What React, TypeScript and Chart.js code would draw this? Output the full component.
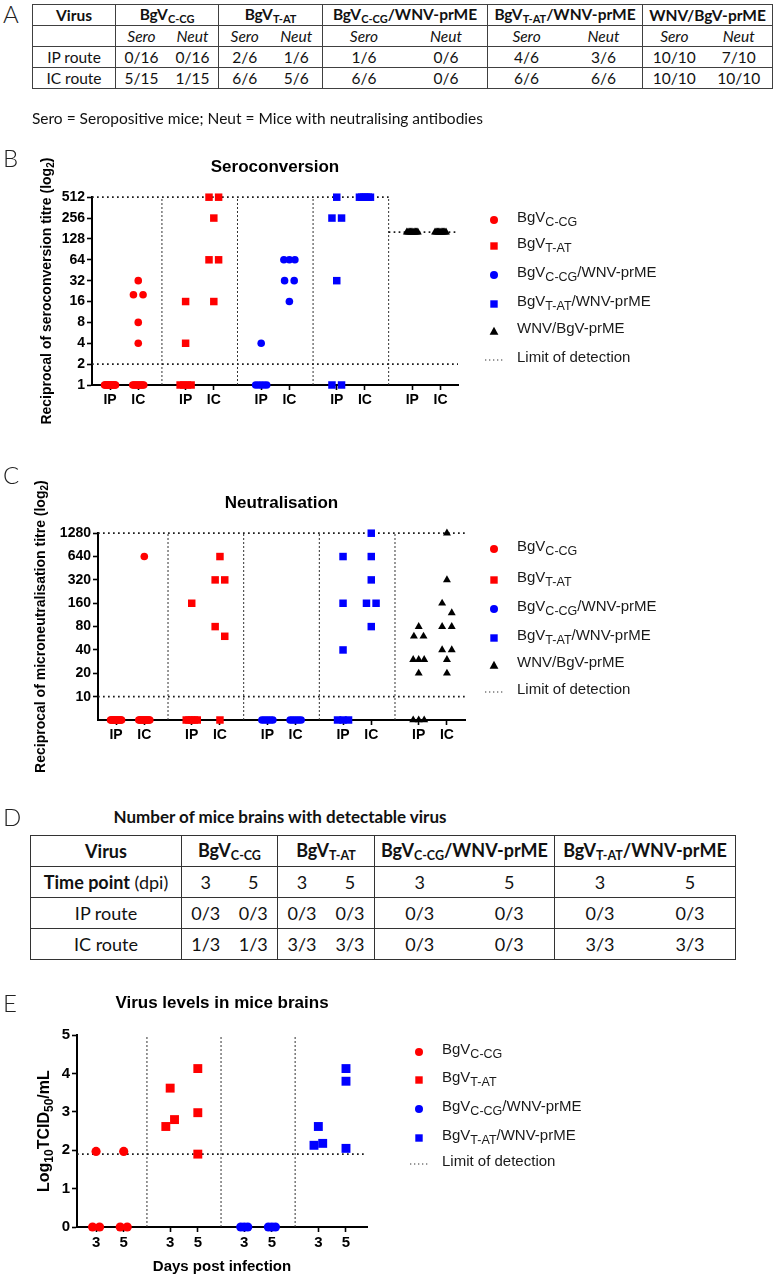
import React, { useEffect, useRef } from "react";
import { Chart, registerables } from "chart.js";

Chart.register(...registerables);

/* ---------------- data ---------------- */
const virusBase = ["BgV", "BgV", "BgV", "BgV", "WNV/BgV-prME"];
const virusSub = ["C-CG", "T-AT", "C-CG", "T-AT", ""];
const virusTail = ["", "", "/WNV-prME", "/WNV-prME", ""];
const routeLabels = ["IP", "IC"];
const routeRowLabels = ["IP route", "IC route"];
const tableSubHeaders = ["Sero", "Neut"];
const tableFootnote = "Sero = Seropositive mice; Neut = Mice with neutralising antibodies";

// Panel A: counts per virus
const seroCountsIP = ["0/16", "2/6", "1/6", "4/6", "10/10"];
const neutCountsIP = ["0/16", "1/6", "0/6", "3/6", "7/10"];
const seroCountsIC = ["5/15", "6/6", "6/6", "6/6", "10/10"];
const neutCountsIC = ["1/15", "5/6", "0/6", "6/6", "10/10"];

// Panel B: seroconversion titres per mouse (1 = undetectable)
const seroTitreIP = [
  [1, 1, 1, 1, 1, 1, 1, 1, 1, 1, 1, 1, 1, 1, 1, 1],
  [16, 4, 1, 1, 1, 1],
  [4, 1, 1, 1, 1, 1],
  [512, 256, 256, 32, 1, 1],
  [160, 160, 160, 160, 160, 160, 160, 160, 160, 160],
];
const seroTitreIC = [
  [32, 20, 20, 8, 4, 1, 1, 1, 1, 1, 1, 1, 1, 1, 1],
  [512, 512, 256, 64, 64, 16],
  [64, 64, 64, 32, 32, 16],
  [512, 512, 512, 512, 512, 512],
  [160, 160, 160, 160, 160, 160, 160, 160, 160, 160],
];
const seroTicks = [1, 2, 4, 8, 16, 32, 64, 128, 256, 512];
const seroFloor = 1;
const seroLimit = 2;
const seroTop = 512;
const seroTopWNV = 160;

// Panel C: microneutralisation titres per mouse (5 = undetectable)
const neutTitreIP = [
  [5, 5, 5, 5, 5, 5, 5, 5, 5, 5, 5, 5, 5, 5, 5, 5],
  [160, 5, 5, 5, 5, 5],
  [5, 5, 5, 5, 5, 5],
  [640, 160, 40, 5, 5, 5],
  [80, 60, 60, 30, 30, 30, 20, 5, 5, 5],
];
const neutTitreIC = [
  [640, 5, 5, 5, 5, 5, 5, 5, 5, 5, 5, 5, 5, 5, 5],
  [640, 320, 320, 80, 60, 5],
  [5, 5, 5, 5, 5, 5],
  [1280, 640, 320, 160, 160, 80],
  [1280, 320, 160, 120, 80, 80, 40, 40, 30, 20],
];
const neutTicks = [10, 20, 40, 80, 160, 320, 640, 1280];
const neutFloor = 5;
const neutLimit = 10;
const neutTop = 1280;

// Panel D
const brainTableTitle = "Number of mice brains with detectable virus";
const brainDays = ["3", "5"];
const brainDetectIP = [["0/3", "0/3"], ["0/3", "0/3"], ["0/3", "0/3"], ["0/3", "0/3"]];
const brainDetectIC = [["1/3", "1/3"], ["3/3", "3/3"], ["0/3", "0/3"], ["3/3", "3/3"]];

// Panel E: log10 TCID50/mL per mouse
const brainLevelDay3 = [[1.97, 0, 0], [3.62, 2.8, 2.62], [0, 0, 0], [2.62, 2.18, 2.13]];
const brainLevelDay5 = [[1.97, 0, 0], [4.13, 2.98, 1.9], [0, 0, 0], [4.13, 3.8, 2.05]];
const brainTicks = [0, 1, 2, 3, 4, 5];
const brainLimit = 1.9;

/* ---------------- styles ---------------- */
const FONT = "'Liberation Sans', Arial, Helvetica, sans-serif";
const TFONT = "Lato, 'Open Sans', sans-serif";
const markerColors = ["#ff0000", "#ff0000", "#0000ff", "#0000ff", "#000000"];
const markerShapes = ["circle", "rect", "circle", "rect", "triangle"];
const GROUP_STEP = 2.68;
const colX = (g: number, r: number) => g * GROUP_STEP + r;

Chart.defaults.color = "#000";
Chart.defaults.font.family = FONT;

function spreadColumn(pts: any[], o: any) {
  const groups = new Map<number, any[]>();
  pts.forEach((p) => {
    if (!groups.has(p.v)) groups.set(p.v, []);
    groups.get(p.v)!.push(p);
  });
  const vals = [...groups.keys()].sort((a, b) => b - a);
  const placed: any[] = [];
  for (const v of vals) {
    const grp = groups.get(v)!;
    const n = grp.length;
    const y = grp[0].el.y;
    if (n > 1) {
      const span = Math.min((n - 1) * o.pair, o.maxSpan);
      grp.forEach((p, i) => placed.push({ el: p.el, dx: -span / 2 + (i * span) / (n - 1), y, single: false }));
      continue;
    }
    const hits = placed.filter((q) => Math.hypot(q.dx, q.y - y) < o.collide);
    let dx = 0;
    if (hits.length === 1 && hits[0].single && hits[0].dx === 0) {
      hits[0].dx = ((o.flip ? 1 : -1) * o.pair) / 2;
      dx = -hits[0].dx;
    } else if (hits.length) {
      for (const c of [o.pair / 2, -o.pair / 2, o.pair, -o.pair]) {
        if (!placed.some((q) => Math.hypot(q.dx - c, q.y - y) < o.collide)) {
          dx = c;
          break;
        }
      }
    }
    placed.push({ el: grp[0].el, dx, y, single: true });
  }
  placed.forEach((q) => {
    q.el.x += q.dx;
  });
}

const swarmPlugin = (o: any) => ({
  id: "swarm",
  afterDatasetsUpdate(chart: any) {
    chart.data.datasets.forEach((ds: any, i: number) => {
      const meta = chart.getDatasetMeta(i);
      if (meta.type !== "scatter") return;
      const cols = new Map<number, any[]>();
      meta.data.forEach((el: any, j: number) => {
        const raw = ds.data[j];
        if (!cols.has(raw.x)) cols.set(raw.x, []);
        cols.get(raw.x)!.push({ el, v: raw.y });
      });
      cols.forEach((p) => spreadColumn(p, o));
    });
  },
});

// y-axis title with real subscripts, drawn rotated next to the y scale
const richYTitlePlugin = (segments: any[], size: number, centerX: number) => ({
  id: "richYTitle",
  afterDraw(chart: any) {
    const ctx = chart.ctx;
    const area = chart.chartArea;
    const cy = (area.top + area.bottom) / 2;
    const fontFor = (s: any) => `bold ${s.sub ? Math.round(size * 0.72) : size}px ${FONT}`;
    ctx.save();
    ctx.translate(centerX, cy);
    ctx.rotate(-Math.PI / 2);
    let total = 0;
    segments.forEach((s) => {
      ctx.font = fontFor(s);
      total += ctx.measureText(s.t).width;
    });
    let x = -total / 2;
    ctx.textBaseline = "middle";
    ctx.textAlign = "left";
    ctx.fillStyle = "#000";
    segments.forEach((s) => {
      ctx.font = fontFor(s);
      ctx.fillText(s.t, x, s.sub ? size * 0.32 : 0);
      x += ctx.measureText(s.t).width;
    });
    ctx.restore();
  },
});

function buildScatter(canvas: HTMLCanvasElement, p: any) {
  const nG = p.values[0].length;
  const tickXs: number[] = [];
  const tickLabels: string[] = [];
  for (let g = 0; g < nG; g++)
    for (let r = 0; r < 2; r++) {
      tickXs.push(colX(g, r));
      tickLabels.push(p.xLabels[r]);
    }
  const seps = Array.from({ length: nG - 1 }, (_, g) => colX(g, 1) + (GROUP_STEP - 1) / 2);
  const xMin = -p.edge[0];
  const xMax = colX(nG - 1, 1) + p.edge[1];

  const scatterSets = Array.from({ length: nG }, (_, g) => ({
    type: "scatter",
    label: virusBase[g] + virusSub[g] + virusTail[g],
    data: p.values.flatMap((routeVals: number[][], r: number) =>
      routeVals[g].map((v) => ({ x: colX(g, r), y: v }))
    ),
    pointStyle: markerShapes[g],
    pointRadius: p.marker[markerShapes[g]],
    pointBackgroundColor: markerColors[g],
    pointBorderColor: markerColors[g],
    pointBorderWidth: 0,
    clip: false,
  }));
  const dotted = {
    type: "line",
    borderColor: "#1a1a1a",
    borderWidth: 1.7,
    borderDash: [1.7, 3.3],
    pointRadius: 0,
    fill: false,
    clip: false,
  };
  const lineSets = [
    ...p.hLines(seps, xMin, xMax).map((l: any) => ({
      ...dotted,
      data: [
        { x: l.x0, y: l.y },
        { x: l.x1, y: l.y },
      ],
    })),
    ...seps.map((x) => ({
      type: "line",
      borderColor: "#333",
      borderWidth: 1,
      borderDash: [2, 2],
      pointRadius: 0,
      fill: false,
      clip: false,
      data: [
        { x, y: p.yMin },
        { x, y: p.sepTop },
      ],
    })),
  ];

  return new Chart(canvas, {
    type: "scatter",
    data: { datasets: [...scatterSets, ...lineSets] as any },
    plugins: [swarmPlugin(p.swarm), richYTitlePlugin(p.yTitle, p.yTitleSize, p.yTitleX)],
    options: {
      responsive: false,
      animation: false,
      events: [],
      layout: { padding: p.pad },
      plugins: {
        legend: { display: false },
        tooltip: { enabled: false },
        title: {
          display: true,
          text: p.title,
          fullSize: false,
          color: "#000",
          font: { family: FONT, size: 17, weight: "bold" },
          padding: { top: 0, bottom: p.titleGap },
        },
      },
      scales: {
        x: {
          type: "linear",
          min: xMin,
          max: xMax,
          afterBuildTicks: (s: any) => {
            s.ticks = tickXs.map((v) => ({ value: v }));
          },
          afterFit: (s: any) => {
            s.height = p.xHeight;
          },
          ticks: {
            autoSkip: false,
            maxRotation: 0,
            padding: 2,
            color: "#000",
            font: { family: FONT, size: p.tickSize, weight: "bold" },
            callback: (_v: any, i: number) => tickLabels[i],
          },
          grid: { display: true, drawOnChartArea: false, drawTicks: true, tickLength: 5, tickWidth: 1.6, tickColor: "#000" },
          border: { display: true, color: "#000", width: 2 },
          title: p.xTitle
            ? {
                display: true,
                text: p.xTitle,
                color: "#000",
                font: { family: FONT, size: 15, weight: "bold" },
                padding: { top: 0, bottom: 1 },
              }
            : { display: false },
        },
        y: {
          type: p.yType,
          min: p.yMin,
          max: p.yMax,
          afterBuildTicks: (s: any) => {
            s.ticks = p.yTicks.map((v: number) => ({ value: v }));
          },
          afterFit: (s: any) => {
            s.width = p.yWidth;
          },
          ticks: {
            autoSkip: false,
            padding: 2,
            color: "#000",
            font: { family: FONT, size: p.tickSize, weight: "bold" },
            callback: (v: any) => String(v),
          },
          grid: { display: true, drawOnChartArea: false, drawTicks: true, tickLength: 5, tickWidth: 1.6, tickColor: "#000" },
          border: { display: true, color: "#000", width: 2 },
          title: { display: false },
        },
      },
    } as any,
  });
}

function ChartCanvas({ top, height, spec }: any) {
  const ref = useRef<HTMLCanvasElement>(null);
  useEffect(() => {
    const chart = buildScatter(ref.current!, spec);
    return () => chart.destroy();
  }, []);
  return (
    <canvas
      ref={ref}
      width={780}
      height={height}
      style={{ position: "absolute", left: 0, top, width: 780, height }}
    />
  );
}

/* ---------------- specs ---------------- */
const seroSpec = {
  title: "Seroconversion",
  yTitle: [{ t: "Reciprocal of seroconversion titre (log" }, { t: "2", sub: true }, { t: ")" }],
  values: [seroTitreIP, seroTitreIC],
  xLabels: routeLabels,
  yType: "logarithmic",
  yMin: seroFloor,
  yMax: seroTop,
  yTicks: seroTicks,
  sepTop: seroTop,
  hLines: (seps: number[], x0: number, x1: number) => [
    { y: seroTop, x0, x1: seps[3] },
    { y: seroTopWNV, x0: seps[3], x1 },
    { y: seroLimit, x0, x1 },
  ],
  pad: { top: 31.8, left: 39, right: 322, bottom: 40 },
  yWidth: 53,
  xHeight: 30,
  titleGap: 20,
  tickSize: 14,
  yTitleSize: 14,
  yTitleX: 47,
  edge: [0.64, 0.62],
  marker: { circle: 3.8, rect: 5.3, triangle: 4.6 },
  swarm: { pair: 9.6, maxSpan: 11, collide: 10.3, flip: false },
};

const neutSpec = {
  title: "Neutralisation",
  yTitle: [{ t: "Reciprocal of microneutralisation titre (log" }, { t: "2", sub: true }, { t: ")" }],
  values: [neutTitreIP, neutTitreIC],
  xLabels: routeLabels,
  yType: "logarithmic",
  yMin: neutFloor,
  yMax: neutTop,
  yTicks: neutTicks,
  sepTop: neutTop,
  hLines: (_s: number[], x0: number, x1: number) => [
    { y: neutTop, x0, x1 },
    { y: neutLimit, x0, x1 },
  ],
  pad: { top: 37.8, left: 32, right: 315, bottom: 45 },
  yWidth: 66,
  xHeight: 30,
  titleGap: 20,
  tickSize: 14,
  yTitleSize: 14,
  yTitleX: 41,
  edge: [0.64, 0.64],
  marker: { circle: 3.8, rect: 5.3, triangle: 4.6 },
  swarm: { pair: 9.6, maxSpan: 11, collide: 10.3, flip: false },
};

const brainSpec = {
  title: "Virus levels in mice brains",
  yTitle: [{ t: "Log" }, { t: "10", sub: true }, { t: "TCID" }, { t: "50", sub: true }, { t: "/mL" }],
  xTitle: "Days post infection",
  values: [brainLevelDay3, brainLevelDay5],
  xLabels: brainDays,
  yType: "linear",
  yMin: brainTicks[0],
  yMax: brainTicks[brainTicks.length - 1],
  yTicks: brainTicks,
  sepTop: brainTicks[brainTicks.length - 1],
  hLines: (_s: number[], x0: number, x1: number) => [{ y: brainLimit, x0, x1 }],
  pad: { top: 17.8, left: 36.4, right: 413, bottom: 3 },
  yWidth: 40.6,
  xHeight: 50,
  titleGap: 22,
  tickSize: 15,
  yTitleSize: 16,
  yTitleX: 45,
  edge: [0.69, 0.76],
  marker: { circle: 4.6, rect: 6.3, triangle: 5 },
  swarm: { pair: 8.7, maxSpan: 7, collide: 10.3, flip: true },
};

/* ---------------- html pieces ---------------- */
function VirusName({ g, sub }: any) {
  return (
    <>
      {virusBase[g]}
      {virusSub[g] ? (
        <span style={{ fontSize: sub, position: "relative", top: "0.3em" }}>{virusSub[g]}</span>
      ) : null}
      {virusTail[g]}
    </>
  );
}

function Marker({ shape, color }: any) {
  if (shape === "lod")
    return (
      <svg width={20} height={12}>
        <line x1={1} y1={6} x2={19} y2={6} stroke="#333" strokeWidth={1.2} strokeDasharray="1.3,2.7" />
      </svg>
    );
  return (
    <svg width={12} height={12}>
      {shape === "circle" && <circle cx={6} cy={6} r={4} fill={color} />}
      {shape === "rect" && <rect x={2.3} y={2.3} width={7.4} height={7.4} fill={color} />}
      {shape === "triangle" && <polygon points="6,1.8 10.4,9.8 1.6,9.8" fill={color} />}
    </svg>
  );
}

function Legend({ count, rows, markerX, textX }: any) {
  const items = Array.from({ length: count }, (_, g) => g);
  const text = { position: "absolute", fontFamily: FONT, fontSize: 15, color: "#1a1a1a", whiteSpace: "nowrap", lineHeight: "18px" } as any;
  return (
    <>
      {items.map((g) => (
        <React.Fragment key={g}>
          <div style={{ position: "absolute", left: markerX - 6, top: rows[g] - 6, width: 12, height: 12 }}>
            <Marker shape={markerShapes[g]} color={markerColors[g]} />
          </div>
          <div style={{ ...text, left: textX, top: rows[g] - 10 }}>
            <VirusName g={g} sub={12.5} />
          </div>
        </React.Fragment>
      ))}
      <div style={{ position: "absolute", left: markerX - 10, top: rows[count] - 6, width: 20, height: 12 }}>
        <Marker shape="lod" />
      </div>
      <div style={{ ...text, left: textX, top: rows[count] - 10 }}>Limit of detection</div>
    </>
  );
}

function PanelLetter({ letter, top }: any) {
  return (
    <div
      style={{
        position: "absolute",
        left: 3,
        top: top - 14,
        fontFamily: TFONT,
        fontWeight: 300,
        fontSize: 24,
        lineHeight: "28px",
        color: "#222",
      }}
    >
      {letter}
    </div>
  );
}

function TableA() {
  const colW = [83, 51.5, 51.5, 52, 52, 82.5, 82.5, 77.5, 77.5, 63, 67];
  const line = "1px solid #404040";
  const cell = (groupStart: boolean, extra: any = {}) => ({
    padding: 0,
    height: 20,
    textAlign: "center",
    verticalAlign: "middle",
    borderTop: line,
    borderLeft: groupStart ? line : "none",
    whiteSpace: "nowrap",
    ...extra,
  });
  const rowsData = [
    [seroCountsIP, neutCountsIP],
    [seroCountsIC, neutCountsIC],
  ];
  return (
    <table
      style={{
        position: "absolute",
        left: 32,
        top: 4,
        width: 740,
        tableLayout: "fixed",
        borderCollapse: "collapse",
        border: line,
        fontFamily: TFONT,
        fontSize: 15.5,
        color: "#111",
        lineHeight: "18px",
      }}
    >
      <colgroup>
        {colW.map((w, i) => (
          <col key={i} style={{ width: w }} />
        ))}
      </colgroup>
      <tbody>
        <tr>
          <td style={cell(true, { fontWeight: 700 }) as any}>Virus</td>
          {virusBase.map((_, g) => (
            <td key={g} colSpan={2} style={cell(true, { fontWeight: 700 }) as any}>
              <VirusName g={g} sub={11} />
            </td>
          ))}
        </tr>
        <tr>
          <td style={cell(true) as any}></td>
          {virusBase.map((_, g) =>
            tableSubHeaders.map((h, k) => (
              <td key={g + "-" + k} style={cell(k === 0, { fontStyle: "italic" }) as any}>
                {h}
              </td>
            ))
          )}
        </tr>
        {routeRowLabels.map((lab, r) => (
          <tr key={lab}>
            <td style={cell(true) as any}>{lab}</td>
            {virusBase.map((_, g) =>
              [0, 1].map((k) => (
                <td key={g + "-" + k} style={cell(k === 0) as any}>
                  {rowsData[r][k][g]}
                </td>
              ))
            )}
          </tr>
        ))}
      </tbody>
    </table>
  );
}

function TableD() {
  const colW = [151, 48, 48, 48.5, 48.5, 90, 90, 90.5, 90.5];
  const line = "1.5px solid #333";
  const cell = (groupStart: boolean, extra: any = {}) => ({
    padding: 0,
    height: 30,
    textAlign: "center",
    verticalAlign: "middle",
    borderTop: line,
    borderLeft: groupStart ? line : "none",
    whiteSpace: "nowrap",
    ...extra,
  });
  const groups = [0, 1, 2, 3];
  return (
    <table
      style={{
        position: "absolute",
        left: 30,
        top: 835,
        width: 705,
        tableLayout: "fixed",
        borderCollapse: "collapse",
        border: line,
        fontFamily: TFONT,
        fontSize: 18,
        color: "#111",
        lineHeight: "20px",
      }}
    >
      <colgroup>
        {colW.map((w, i) => (
          <col key={i} style={{ width: w }} />
        ))}
      </colgroup>
      <tbody>
        <tr>
          <td style={cell(true, { fontWeight: 700 }) as any}>Virus</td>
          {groups.map((g) => (
            <td key={g} colSpan={2} style={cell(true, { fontWeight: 700 }) as any}>
              <VirusName g={g} sub={12.5} />
            </td>
          ))}
        </tr>
        <tr>
          <td style={cell(true) as any}>
            <b>Time point</b> (dpi)
          </td>
          {groups.map((g) =>
            brainDays.map((d, k) => (
              <td key={g + "-" + k} style={cell(k === 0) as any}>
                {d}
              </td>
            ))
          )}
        </tr>
        {[brainDetectIP, brainDetectIC].map((rowVals, r) => (
          <tr key={r}>
            <td style={cell(true) as any}>{routeRowLabels[r]}</td>
            {groups.map((g) =>
              [0, 1].map((k) => (
                <td key={g + "-" + k} style={cell(k === 0) as any}>
                  {rowVals[g][k]}
                </td>
              ))
            )}
          </tr>
        ))}
      </tbody>
    </table>
  );
}

export default function App() {
  return (
    <div style={{ position: "absolute", left: 0, top: 0, width: 780, height: 1280, background: "#fff", overflow: "hidden" }}>
      <ChartCanvas top={125} height={330} spec={seroSpec} />
      <ChartCanvas top={455} height={340} spec={neutSpec} />
      <ChartCanvas top={975} height={305} spec={brainSpec} />

      <PanelLetter letter="A" top={14} />
      <PanelLetter letter="B" top={158} />
      <PanelLetter letter="C" top={475} />
      <PanelLetter letter="D" top={817} />
      <PanelLetter letter="E" top={1003} />

      <TableA />
      <div
        style={{
          position: "absolute",
          left: 32,
          top: 109,
          fontFamily: TFONT,
          fontSize: 15.5,
          lineHeight: "18px",
          color: "#111",
          whiteSpace: "nowrap",
        }}
      >
        {tableFootnote}
      </div>

      <Legend count={5} rows={[218, 244, 273, 302, 329, 358]} markerX={494} textX={517} />
      <Legend count={5} rows={[547, 578, 607, 636, 663, 690]} markerX={494} textX={517} />

      <div
        style={{
          position: "absolute",
          left: 80,
          top: 807,
          width: 400,
          textAlign: "center",
          fontFamily: TFONT,
          fontWeight: 700,
          fontSize: 17,
          lineHeight: "20px",
          color: "#111",
          whiteSpace: "nowrap",
        }}
      >
        {brainTableTitle}
      </div>
      <TableD />

      <Legend count={4} rows={[1050, 1078, 1107, 1136, 1162]} markerX={419} textX={442} />
    </div>
  );
}
